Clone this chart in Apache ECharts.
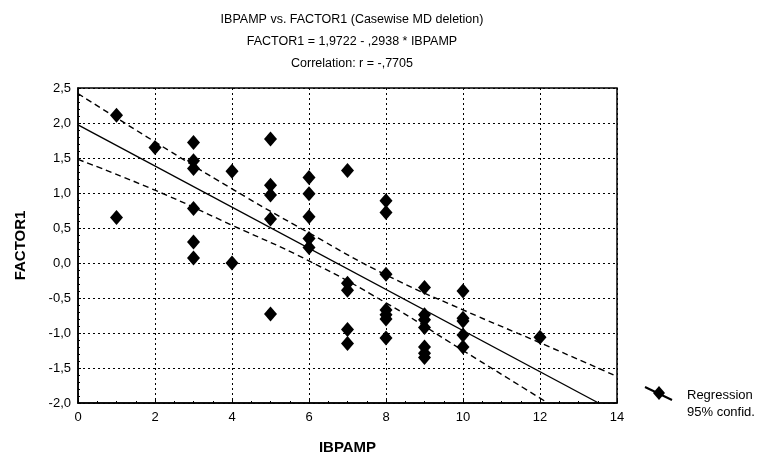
<!DOCTYPE html>
<html>
<head>
<meta charset="utf-8">
<script src="https://cdn.jsdelivr.net/npm/echarts@6/dist/echarts.min.js"></script>
<style>html,body{margin:0;padding:0;background:#fff}#c{width:768px;height:461px}</style>
</head>
<body>
<div id="c"></div>
<script>
// ---- data ----
const titleLines = ['IBPAMP vs. FACTOR1 (Casewise MD deletion)', 'FACTOR1 = 1,9722 - ,2938 * IBPAMP', 'Correlation: r = -,7705'];
const xName = 'IBPAMP';
const yName = 'FACTOR1';
const legendLines = ['Regression', '95% confid.'];

const pointsX = [1,1, 2, 3,3,3,3,3,3, 4,4, 5,5,5,5,5, 6,6,6,6,6, 7,7,7,7,7, 8,8,8,8,8,8,8, 9,9,9,9,9,9,9, 10,10,10,10,10, 12];
const pointsY = [2.11,0.65, 1.65, 1.72,1.46,1.35,0.78,0.30,0.07, 1.31,0.00, 1.77,1.11,0.97,0.63,-0.73, 1.22,0.99,0.66,0.35,0.22, 1.32,-0.29,-0.39,-0.95,-1.15, 0.89,0.72,-0.16,-0.67,-0.74,-0.80,-1.07, -0.35,-0.74,-0.81,-0.92,-1.20,-1.29,-1.35, -0.40,-0.79,-0.83,-1.03,-1.20, -1.06];

const regX = [0, 13.52];
const regY = [1.9722, -2.0];

const upperX = [0, 2, 4, 6, 8, 10, 12, 14];
const upperY = [2.42, 1.73, 1.06, 0.43, -0.17, -0.67, -1.14, -1.62];
const lowerX = [0, 2, 4, 6, 8, 10, 12, 12.2];
const lowerY = [1.48, 1.04, 0.54, 0.03, -0.57, -1.25, -1.93, -2.0];

const xTicks = [0, 2, 4, 6, 8, 10, 12, 14];
const yTicks = [-2.0, -1.5, -1.0, -0.5, 0.0, 0.5, 1.0, 1.5, 2.0, 2.5];

// ---- chart ----
const zip = (a, b) => a.map((v, i) => [v, b[i]]);
const FONT = '"Liberation Sans", Arial, sans-serif';
const chart = echarts.init(document.getElementById('c'), null, {renderer: 'canvas'});

chart.setOption({
  animation: false,
  backgroundColor: '#fff',
  title: {
    text: titleLines.join('\n'),
    left: 347, textAlign: 'center', top: 4,
    textStyle: {fontFamily: FONT, fontSize: 12.5, fontWeight: 'normal', color: '#000', lineHeight: 22}
  },
  grid: {left: 78, right: 151, top: 88, bottom: 58, show: true, borderColor: '#000', borderWidth: 1.5, backgroundColor: 'transparent'},
  xAxis: {
    type: 'value', min: xTicks[0], max: xTicks[xTicks.length - 1], interval: 2,
    name: xName, nameLocation: 'middle', nameGap: 37,
    nameTextStyle: {fontFamily: FONT, fontSize: 15, fontWeight: 'bold', color: '#000'},
    axisLine: {onZero: false, lineStyle: {color: '#000', width: 1.5}},
    axisTick: {show: true, inside: true, length: 3, lineStyle: {color: '#000'}},
    minorTick: {show: true, splitNumber: 4, length: 2, lineStyle: {color: '#000'}},
    axisLabel: {fontFamily: FONT, fontSize: 13, color: '#000', margin: 8,
      formatter: v => xTicks.includes(v) ? String(v) : ''},
    splitLine: {show: true, lineStyle: {color: '#000', type: [2, 3], width: 1}}
  },
  yAxis: {
    type: 'value', min: yTicks[0], max: yTicks[yTicks.length - 1], interval: 0.5,
    name: yName, nameLocation: 'middle', nameGap: 50, nameRotate: 90,
    nameTextStyle: {fontFamily: FONT, fontSize: 15, fontWeight: 'bold', color: '#000'},
    axisLine: {show: true, onZero: false, lineStyle: {color: '#000', width: 1.5}},
    axisTick: {show: true, inside: true, length: 3, lineStyle: {color: '#000'}},
    minorTick: {show: true, splitNumber: 5, length: 2, lineStyle: {color: '#000'}},
    axisLabel: {fontFamily: FONT, fontSize: 13, color: '#000', margin: 7,
      formatter: v => v.toFixed(1).replace('.', ',')},
    splitLine: {show: true, lineStyle: {color: '#000', type: [2, 3], width: 1}}
  },
  series: [
    {type: 'line', name: 'upper', data: zip(upperX, upperY), smooth: true, symbol: 'none',
      lineStyle: {color: '#000', width: 1.4, type: [6, 4]}, z: 3},
    {type: 'line', name: 'lower', data: zip(lowerX, lowerY), smooth: true, symbol: 'none',
      lineStyle: {color: '#000', width: 1.4, type: [6, 4]}, z: 3},
    {type: 'line', name: 'Regression', data: zip(regX, regY), symbol: 'none',
      lineStyle: {color: '#000', width: 1.4}, z: 3},
    {type: 'scatter', name: 'points', data: zip(pointsX, pointsY), symbol: 'diamond', symbolSize: [13, 15],
      itemStyle: {color: '#000', opacity: 1}, z: 4}
  ],
  graphic: [
    {type: 'line', shape: {x1: 645, y1: 387, x2: 672, y2: 400}, style: {stroke: '#000', lineWidth: 2}},
    {type: 'polygon', shape: {points: [[659, 386], [665, 393], [659, 400], [653, 393]]}, style: {fill: '#000'}},
    {type: 'text', left: 687, top: 387, style: {text: legendLines.join('\n'), font: '13px ' + FONT, fill: '#000', lineHeight: 17}}
  ]
});
</script>
</body>
</html>
